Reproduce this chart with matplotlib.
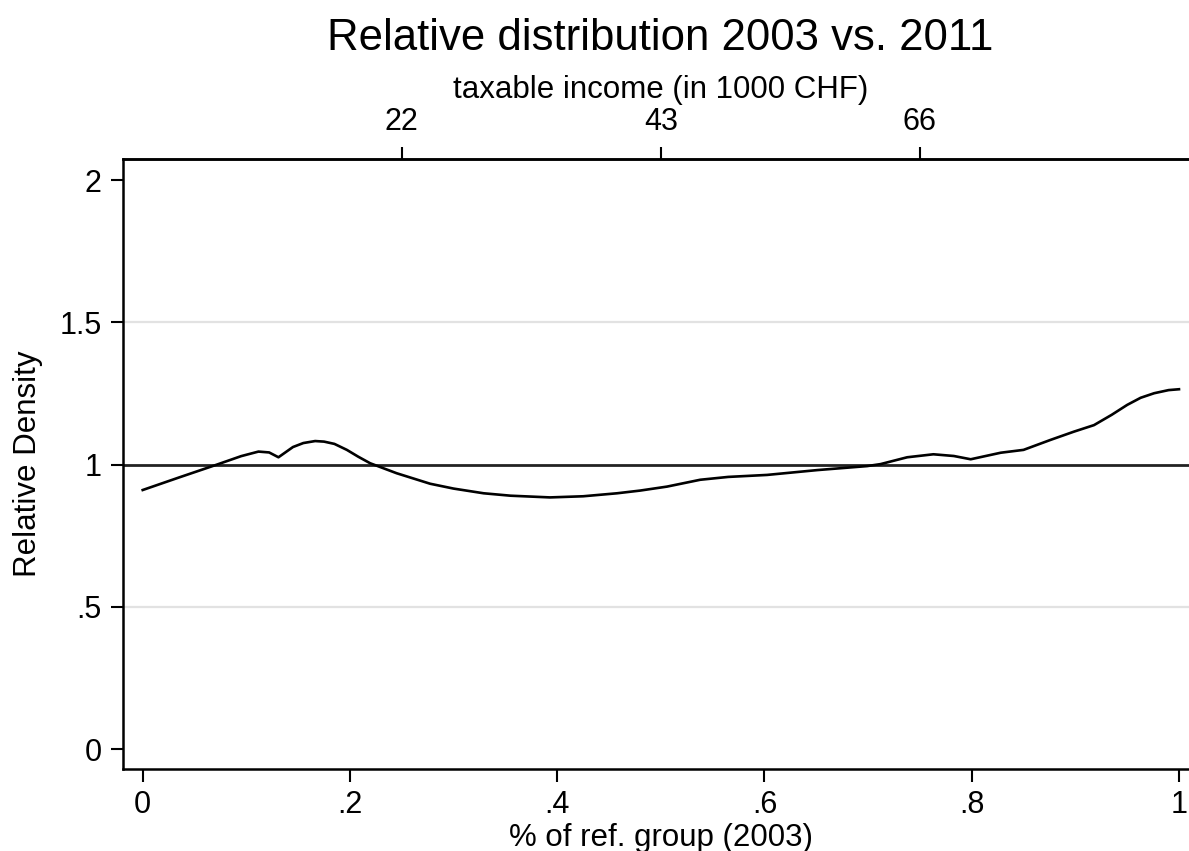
import matplotlib
matplotlib.use("Agg")
import matplotlib.pyplot as plt
import numpy as np

plt.rcParams['font.family'] = ['Liberation Sans', 'DejaVu Sans']

# relative density of 2011 incomes on the 2003 reference scale
rank = [0.0, 0.035, 0.0714, 0.095, 0.1117, 0.122, 0.131, 0.145, 0.155, 0.1664,
        0.175, 0.185, 0.197, 0.208, 0.2195, 0.245, 0.2774, 0.30, 0.329, 0.355,
        0.393, 0.425, 0.4577, 0.48, 0.506, 0.538, 0.565, 0.6025, 0.651, 0.699,
        0.712, 0.7377, 0.763, 0.7827, 0.799, 0.828, 0.850, 0.876, 0.8986, 0.918,
        0.935, 0.950, 0.963, 0.976, 0.99, 1.0]
rel_density = [0.911, 0.955, 1.0, 1.03, 1.046, 1.043, 1.026, 1.062, 1.076, 1.083,
               1.081, 1.073, 1.052, 1.028, 1.005, 0.970, 0.933, 0.916, 0.8995, 0.891,
               0.885, 0.889, 0.8995, 0.909, 0.923, 0.947, 0.957, 0.964, 0.981, 0.995,
               1.002, 1.026, 1.0365, 1.0305, 1.019, 1.042, 1.052, 1.087, 1.116, 1.139,
               1.175, 1.21, 1.235, 1.251, 1.262, 1.265]

# income quartiles of the reference group
quart_pos = [0.25, 0.5, 0.75]
quart_lab = ['22', '43', '66']

yticks = [0, 0.5, 1, 1.5, 2]
ylabs = ['0', '.5', '1', '1.5', '2']
xticks = [0, 0.2, 0.4, 0.6, 0.8, 1.0]
xlabs = ['0', '.2', '.4', '.6', '.8', '1']

fig = plt.figure(figsize=(11.89, 8.51), dpi=100)
ax = fig.add_axes([0.1032, 0.0964, 0.9052, 0.7168])

for g in [0.5, 1.5]:
    ax.axhline(g, color='#e2e2e2', lw=1.6, zorder=1)
ax.axhline(1, color='#222222', lw=2.0, zorder=2)
ax.plot(rank, rel_density, color='black', lw=1.9, zorder=3,
        solid_joinstyle='round')

ax.set_xlim(-0.0193, 1.0193)
ax.set_ylim(-0.069, 2.074)
ax.set_xticks(xticks)
ax.set_xticklabels(xlabs)
ax.set_yticks(yticks)
ax.set_yticklabels(ylabs)
ax.tick_params(axis='both', length=9, width=1.5, labelsize=22, pad=6, colors='black')
for s in ax.spines.values():
    s.set_linewidth(1.8)

ax.set_xlabel('% of ref. group (2003)', fontsize=22.5, labelpad=2)
ax.set_ylabel('Relative Density', fontsize=22.5, labelpad=12)

top = ax.secondary_xaxis('top')
top.set_xticks(quart_pos)
top.set_xticklabels(quart_lab)
top.tick_params(length=9, width=1.5, labelsize=22, pad=7)
top.spines['top'].set_linewidth(1.8)
top.set_xlabel('taxable income (in 1000 CHF)', fontsize=22.5, labelpad=6)

fig.text(0.5555, 1 - 38 / 851, 'Relative distribution 2003 vs. 2011',
         fontsize=31.5, ha='center', va='center')

fig.savefig('out.png', dpi=100)
